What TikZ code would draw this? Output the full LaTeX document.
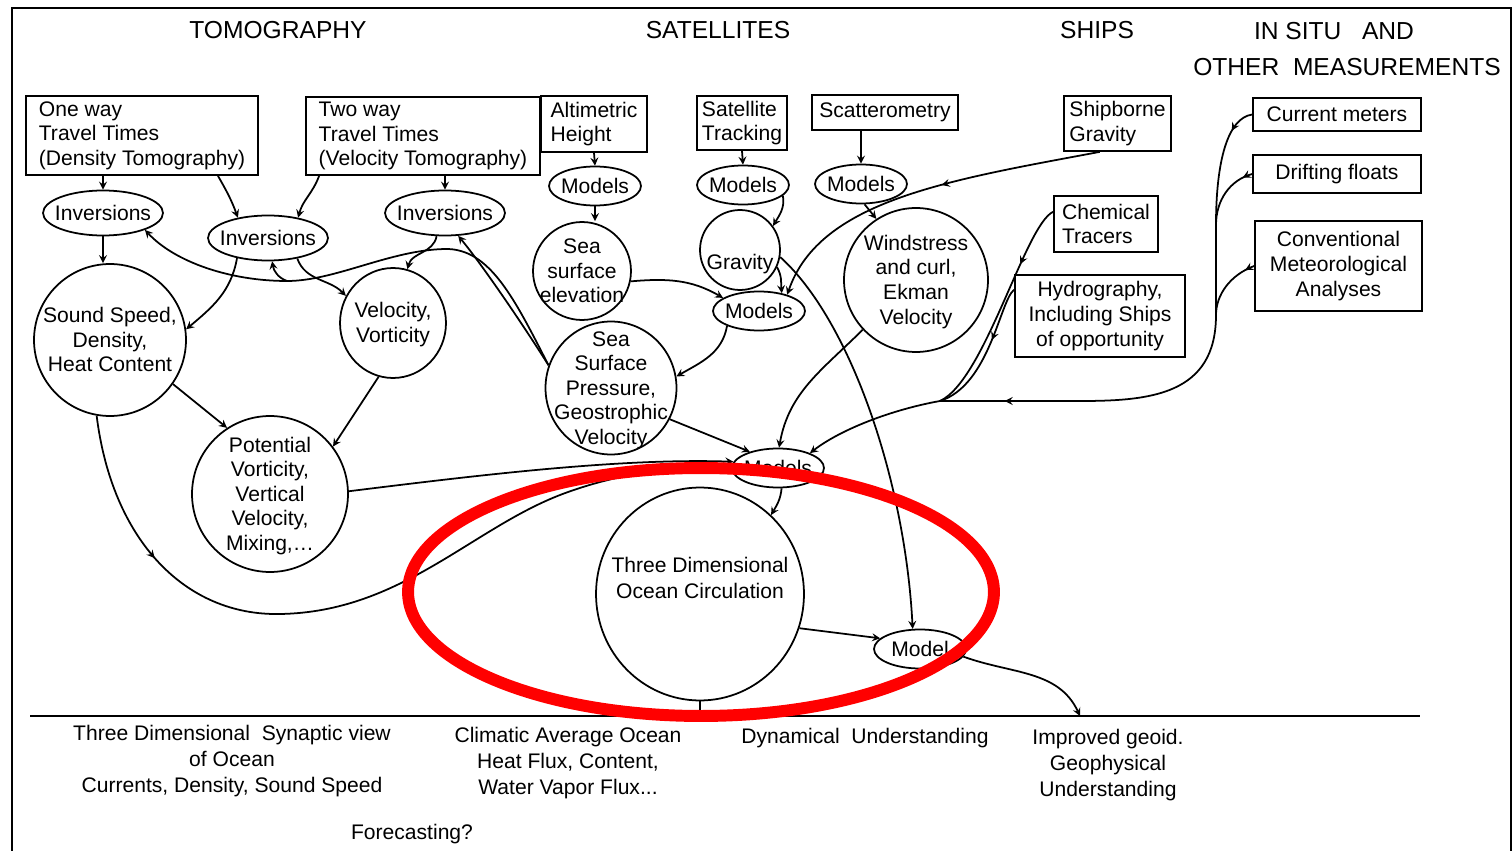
\documentclass[tikz,border=0pt]{standalone}
\usepackage{fontspec}
\setmainfont{Liberation Sans}
\usetikzlibrary{shapes.geometric, decorations.markings}
\newcommand{\zw}[1]{\makebox[0pt]{\raisebox{-4.3pt}[0pt][0pt]{\begin{tabular}{@{}c@{}}#1\end{tabular}}}}

\begin{document}
\begin{tikzpicture}[x=0.02cm, y=-0.02cm, line width=1pt, >=stealth,
        font=\fontsize{12}{14}\selectfont,
        box/.style={draw, rectangle, align=left, inner sep=2pt},
        oval/.style={draw, ellipse, inner sep=0pt},
        inv/.style={oval, minimum width=2.4cm, minimum height=0.9cm},
        mdl/.style={oval, minimum width=1.84cm, minimum height=0.78cm},
        head/.style={font=\fontsize{14}{17}\selectfont},
        lbl/.style={align=center, font=\fontsize{12}{15}\selectfont},
        conn/.style={->},
        midarr/.style={postaction={decorate, decoration={markings,
            mark=at position #1 with {\arrow{stealth}}}}}]
    \useasboundingbox (0,0) rectangle (1512,851);
    % frame
    \draw[line width=1.2pt] (12,851) -- (12,8) -- (1511,8) -- (1511,851);

    % headings
    \node[head] (hT) at (278,30) {TOMOGRAPHY};
    \node[head] (hS) at (718,30) {SATELLITES};
    \node[head] (hSh) at (1097,30) {SHIPS};
    \node[head] (hI) at (1334,31) {IN SITU \ \ AND};
    \node[head] (hO) at (1347,67) {OTHER \ MEASUREMENTS};

    % measurement boxes
    \node[box, minimum width=4.64cm, minimum height=1.58cm] (ow) at (142,135.5) {One way\\Travel Times\\(Density Tomography)};
    \node[box, minimum width=4.68cm, minimum height=1.56cm] (tw) at (423,136) {Two way\\Travel Times\\(Velocity Tomography)};
    \node[box, minimum width=2.12cm, minimum height=1.12cm] (alt) at (594,124) {Altimetric\\Height};
    \node[box, minimum width=1.8cm, minimum height=1.08cm] (sat) at (742,123) {Satellite\\Tracking};
    \node[box, minimum width=2.92cm, minimum height=0.7cm] (scat) at (885,112.5) {Scatterometry};
    \node[box, minimum width=2.14cm, minimum height=1.1cm] (ship) at (1117.5,123.5) {Shipborne\\Gravity};
    \node[box, minimum width=2.08cm, minimum height=1.12cm] (chem) at (1106,224) {Chemical\\Tracers};
    \node[box, align=center, minimum width=3.4cm, minimum height=1.64cm] (hydro) at (1100,316) {Hydrography,\\Including Ships\\of opportunity};
    \node[box, minimum width=3.36cm, minimum height=0.66cm] (cur) at (1337,114.5) {Current meters};
    \node[box, minimum width=3.36cm, minimum height=0.76cm] (drift) at (1337,174) {Drifting floats};
    \node[box, align=center, minimum width=3.34cm, minimum height=1.8cm] (conv) at (1338.5,266) {Conventional\\Meteorological\\Analyses};

    % inversions and models
    \node[inv] (inv1) at (103,213) {\zw{Inversions}};
    \node[inv] (inv2) at (268,238) {\zw{Inversions}};
    \node[inv] (inv3) at (445,213) {\zw{Inversions}};
    \node[mdl] (mod1) at (595,186) {\zw{Models}};
    \node[mdl] (mod2) at (743,185) {\zw{Models}};
    \node[mdl] (mod3) at (861,184) {\zw{Models}};
    \node[mdl] (mod4) at (759,311) {\zw{Models}};
    \node[mdl] (mod5) at (778,468) {\zw{Models}};
    \node[mdl] (mod6) at (920,649) {\zw{Model}};

    % quantities
    \node[oval, minimum width=3.04cm, minimum height=3.04cm] (ss) at (110,340) {\zw{Sound Speed,\\Density,\\Heat Content}};
    \node[oval, minimum width=2.12cm, minimum height=2.2cm] (vv) at (393,323) {\zw{Velocity,\\Vorticity}};
    \node[oval, minimum width=3.12cm, minimum height=3.12cm] (pv) at (270,494) {\zw{Potential\\Vorticity,\\Vertical\\Velocity,\\Mixing,\dots}};
    \node[oval, minimum width=1.96cm, minimum height=1.96cm] (sse) at (582,271) {\zw{Sea\\surface\\elevation}};
    \node[oval, minimum width=2.62cm, minimum height=2.66cm] (ssp) at (611,388) {\zw{Sea\\Surface\\Pressure,\\Geostrophic\\Velocity}};
    \node[oval, minimum width=1.6cm, minimum height=1.6cm] (grav) at (740,250) {\zw{\\Gravity}};
    \node[oval, minimum width=2.88cm, minimum height=2.88cm] (ws) at (916,280) {\zw{Windstress\\and curl,\\Ekman\\Velocity}};
    \node[oval, minimum width=4.16cm, minimum height=4.26cm] (doc) at (700,594) {};
    \node[lbl] (doctxt) at (700,578) {Three Dimensional\\Ocean Circulation};

    % tomography
    \draw[conn] (inv1.north |- ow.south) -- (inv1.north);
    \draw[conn] (inv1.south) -- (inv1.south |- ss.north);
    \draw[conn] (ow.-28) to[out=-60, in=110] (inv2.146);
    \draw[conn] (tw.201) to[out=-110, in=75] (inv2.34);
    \draw[conn] (inv3.north |- tw.south) -- (inv3.north);
    \draw[conn] (inv2.-147) to[out=-100, in=40] (ss.8);
    \draw[conn] (inv2.-35) to[out=-70, in=135] (vv.150);
    \draw[conn] (inv3.-110) to[out=-100, in=75] (vv.75);
    \coordinate (j1) at (287,281);
    \draw[conn] (ssp.160) .. controls (515,300) and (490,248) .. (445,249)
        .. controls (390,250) and (335,281) .. (j1)
        .. controls (230,281) and (175,262) .. (inv1.-22);
    \draw[conn] (j1) to[out=160, in=-80] (inv2.-80);
    \draw[conn] (ssp.160) .. controls (520,320) and (480,262) .. (inv3.-60);
    \draw[conn] (ss.-35) -- (pv.123);
    \draw[conn] (vv.-105) -- (pv.37);
    \draw[conn] (pv.2) .. controls (480,475) and (620,458) .. (mod5.172);
    \draw[conn, midarr=0.2] (ss.-100) .. controls (112,540) and (185,616) .. (280,614)
        .. controls (400,612) and (470,530) .. (560,495)
        .. controls (620,472) and (680,466) .. (mod5.178);

    % satellites
    \draw[conn] (alt.south) -- (mod1.north);
    \draw[conn] (mod1.south) -- (mod1.south |- sse.north);
    \draw[conn] (sat.south) -- (mod2.north);
    \draw[conn] (mod2.-15) to[out=-80, in=60] (grav.36);
    \draw[conn] (grav.-25) to[out=-60, in=95] (mod4.38);
    \draw[conn] (grav.-10) .. controls (850,320) and (905,480) .. (mod6.110);
    \draw[conn] (sse.-12) to[out=5, in=150] (mod4.160);
    \draw[conn] (mod4.-155) to[out=-100, in=30] (ssp.10);
    \draw[conn] (ssp.-28) -- (mod5.150);
    \draw[conn] (mod3.north |- scat.south) -- (mod3.north);
    \draw[conn] (mod3.-80) -- (ws.123);
    \draw[conn] (ws.-137) to[out=-135, in=80] (mod5.87);

    % ships
    \draw[conn, midarr=0.45] (ship.-122) .. controls (950,180) and (820,200) .. (mod4.30);
    \coordinate (j3) at (940,401);
    \draw[midarr=0.28] (chem.167) .. controls (1025,225) and (985,380) .. (j3);
    \draw[midarr=0.4] (hydro.163) .. controls (1000,300) and (990,385) .. (j3);
    \draw[conn] (j3) .. controls (890,410) and (840,430) .. (mod5.25);

    % in situ
    \coordinate (t1) at (1216,225);
    \coordinate (t2) at (1216,315);
    \draw[midarr=0.05, midarr=0.88] (cur.west) .. controls (1228,118) and (1216,160) .. (t1) -- (t2)
        .. controls (1216,395) and (1150,401) .. (1080,401) -- (j3);
    \draw[midarr=0.15] (drift.west) .. controls (1230,180) and (1216,200) .. (t1);
    \draw[midarr=0.15] (conv.west) .. controls (1230,275) and (1216,295) .. (t2);

    % outputs
    \coordinate (bl) at (30,716);
    \coordinate (br) at (1420,716);
    \coordinate (geo) at (1080,716);
    \draw (bl) -- (br);
    \draw (doc.south) -- (doc.south |- bl);
    \draw[conn] (mod5.-80) to[out=-95, in=60] (doc.48);
    \draw[conn] (doc.-19) -- (mod6.165);
    \draw[conn] (mod6.-10) to[out=-20, in=115] (geo);

    \node[lbl] (o1) at (232,761) {Three Dimensional \ Synaptic view\\of Ocean\\Currents, Density, Sound Speed};
    \node[lbl] (o2) at (568,763) {Climatic Average Ocean\\Heat Flux, Content,\\Water Vapor Flux...};
    \node (o3) at (865,738) {Dynamical \ Understanding};
    \node[lbl] (o4) at (1108,765) {Improved geoid.\\Geophysical\\Understanding};
    \node (o5) at (412,834) {Forecasting?};

    % highlight
    \draw[red, line width=6.8pt] (701,592) ellipse [x radius=5.86cm, y radius=2.48cm];
\end{tikzpicture}
\end{document}
